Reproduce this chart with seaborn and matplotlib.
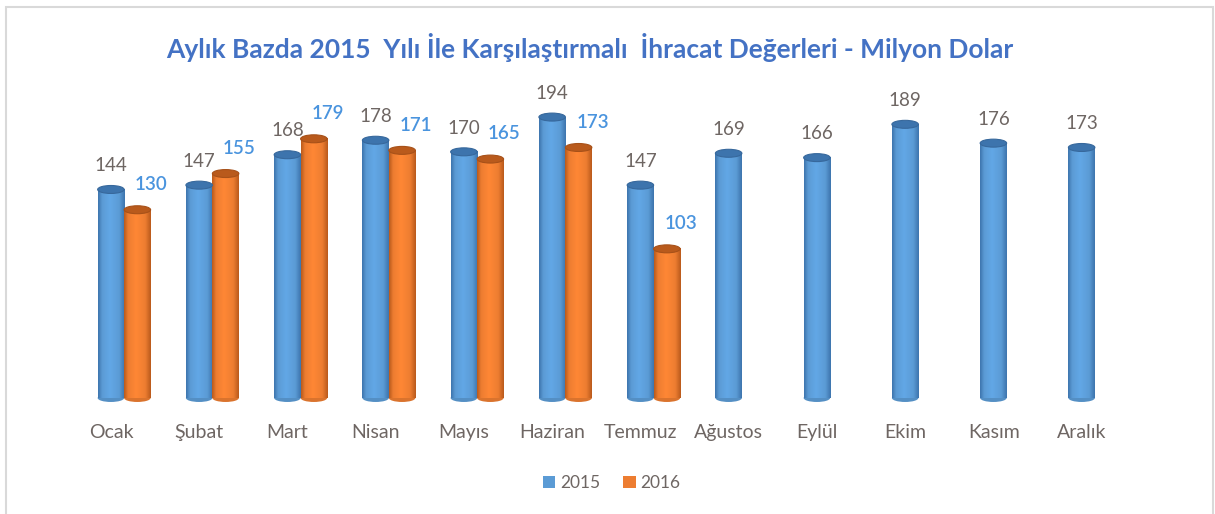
import numpy as np
import pandas as pd
import matplotlib
matplotlib.use("Agg")
import matplotlib.pyplot as plt
import matplotlib.transforms as mtransforms
import seaborn as sns
from matplotlib.patches import Ellipse, Rectangle, Patch
from matplotlib.colors import LinearSegmentedColormap, to_rgb

# data
months = ['Ocak', 'Şubat', 'Mart', 'Nisan', 'Mayıs', 'Haziran', 'Temmuz',
          'Ağustos', 'Eylül', 'Ekim', 'Kasım', 'Aralık']
values_2015 = [144, 147, 168, 178, 170, 194, 147, 169, 166, 189, 176, 173]
values_2016 = [130, 155, 179, 171, 165, 173, 103,
               np.nan, np.nan, np.nan, np.nan, np.nan]
years = ['2015', '2016']
title = 'Aylık Bazda 2015  Yılı İle Karşılaştırmalı  İhracat Değerleri - Milyon Dolar'

colors = {'2015': '#5b9bd5', '2016': '#ed7d31'}
dark = {'2015': '#3d74ad', '2016': '#b95a1c'}
label_colors = {'2015': '#6e6663', '2016': '#4a94de'}

df = pd.DataFrame({
    'month': months * 2,
    'year': ['2015'] * len(months) + ['2016'] * len(months),
    'value': values_2015 + values_2016,
})

sns.set_theme(style='white')
plt.rcParams['font.family'] = ['Lato', 'DejaVu Sans']

fig = plt.figure(figsize=(12.15, 5.14), dpi=100)
ax = fig.add_axes([80 / 1215, (514 - 398) / 514, (1139 - 80) / 1215, 308 / 514])

sns.barplot(data=df, x='month', y='value', hue='year', palette=colors,
            width=0.6, gap=0, saturation=1, legend=False, ax=ax, zorder=2)

ax.set_xlim(-0.5, len(months) - 0.5)
ax.set_ylim(0, 212.7)
xlim, ylim = ax.get_xlim(), ax.get_ylim()
cap_h = 5.5  # ellipse height in data units

# cylinder look: gradient body, elliptical top and bottom
for container, yr in zip(ax.containers, years):
    base = np.array(to_rgb(colors[yr]))
    shade = np.array(to_rgb(dark[yr]))
    light = np.clip(base * 1.08, 0, 1)
    cmap = LinearSegmentedColormap.from_list(
        'cyl' + yr, [(0, shade), (0.15, base), (0.45, light), (0.8, base), (1, shade)])
    for p in container.patches:
        h = p.get_height()
        if not np.isfinite(h) or h == 0:
            continue
        x0, w = p.get_x(), p.get_width()
        cx = x0 + w / 2
        grad = np.linspace(0, 1, 64).reshape(1, -1)
        ax.imshow(grad, extent=[x0, x0 + w, 0, h], aspect='auto', cmap=cmap,
                  zorder=3, interpolation='bicubic')
        ax.add_patch(Ellipse((cx, 0), w, cap_h, facecolor=base * 0.92,
                             edgecolor='none', zorder=2.5, clip_on=False))
        ax.add_patch(Ellipse((cx, h), w, cap_h, facecolor=shade,
                             edgecolor=shade * 0.9, lw=0.8, zorder=4))
        if yr == '2015':
            ax.annotate(f'{int(h)}', (cx, h), xytext=(0, 11),
                        textcoords='offset points', ha='center', va='bottom',
                        fontsize=13.5, color=label_colors[yr])
        else:
            ax.annotate(f'{int(h)}', (cx, h), xytext=(10, 12),
                        textcoords='offset points', ha='center', va='bottom',
                        fontsize=13.5, fontweight='semibold', color=label_colors[yr])

ax.set_xlim(xlim)
ax.set_ylim(ylim)
ax.set_xlabel('')
ax.set_ylabel('')
ax.set_yticks([])
ax.tick_params(axis='x', length=0, pad=19, labelsize=14, labelcolor='#6e6663')
shift = mtransforms.ScaledTranslation(-13 / 100, 0, fig.dpi_scale_trans)
for lbl in ax.get_xticklabels():
    lbl.set_transform(lbl.get_transform() + shift)
sns.despine(ax=ax, left=True, bottom=True)

fig.text(590 / 1215, 1 - 47 / 514, title, ha='center', va='center',
         fontsize=19, fontweight='bold', color='#4472c4')

handles = [Patch(facecolor=colors[y], edgecolor='none', label=y) for y in years]
fig.legend(handles=handles, loc='center', bbox_to_anchor=(612 / 1215, 1 - 483 / 514),
           ncol=2, frameon=False, fontsize=12.5, handlelength=0.7, handleheight=0.7,
           handletextpad=0.3, columnspacing=1.3, labelcolor='#6e6663')

fig.patches.append(Rectangle((6 / 1215, -0.02), 1207 / 1215, 1.02 - 7 / 514,
                             transform=fig.transFigure, fill=False,
                             edgecolor='#d9d9d9', lw=1.5))

fig.savefig('out.png', dpi=100, facecolor='white')
